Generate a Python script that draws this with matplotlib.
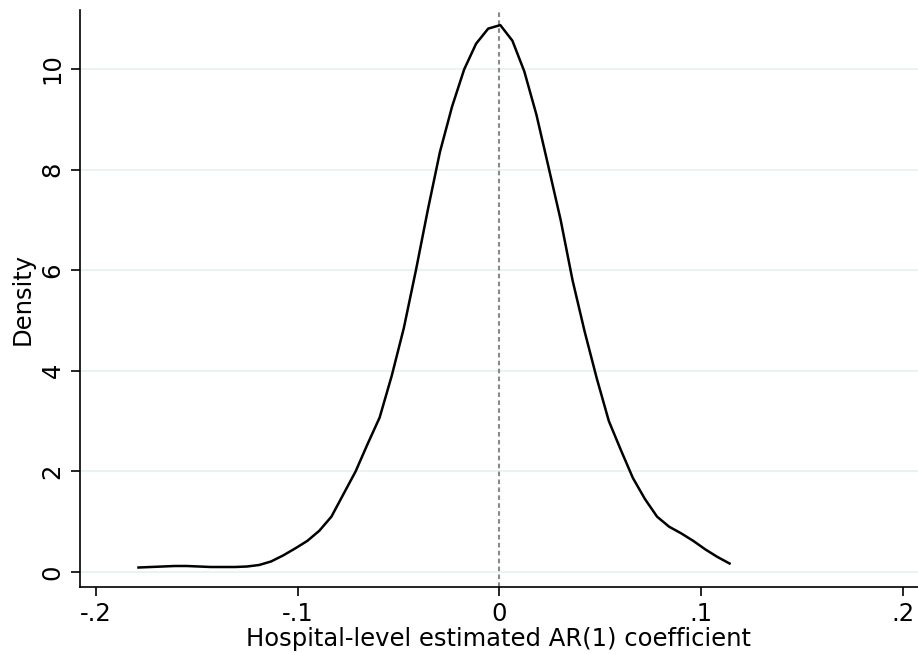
import numpy as np
import matplotlib
matplotlib.use("Agg")
import matplotlib.pyplot as plt

# kdensity evaluation points and estimated density
x_pts = [-0.1789, -0.1729, -0.1669, -0.1610, -0.1550, -0.1490, -0.1430, -0.1371,
         -0.1311, -0.1251, -0.1191, -0.1132, -0.1072, -0.1012, -0.0952, -0.0893,
         -0.0833, -0.0773, -0.0713, -0.0653, -0.0594, -0.0534, -0.0474, -0.0414,
         -0.0355, -0.0295, -0.0235, -0.0175, -0.0116, -0.0056, 0.0004, 0.0064,
         0.0123, 0.0183, 0.0243, 0.0303, 0.0362, 0.0422, 0.0482, 0.0542,
         0.0602, 0.0661, 0.0721, 0.0781, 0.0841, 0.0900, 0.0960, 0.1020,
         0.1080, 0.1140]
density = [0.09, 0.10, 0.11, 0.12, 0.12, 0.11, 0.10, 0.10,
           0.10, 0.11, 0.14, 0.21, 0.33, 0.47, 0.62, 0.82,
           1.10, 1.55, 2.00, 2.55, 3.07, 3.90, 4.85, 6.00,
           7.20, 8.35, 9.25, 9.99, 10.50, 10.80, 10.87, 10.56,
           9.95, 9.09, 8.05, 7.00, 5.80, 4.78, 3.85, 3.00,
           2.42, 1.87, 1.45, 1.10, 0.90, 0.77, 0.62, 0.45,
           0.30, 0.17]

xticks = [-0.2, -0.1, 0, 0.1, 0.2]
xticklabels = ["-.2", "-.1", "0", ".1", ".2"]
yticks = [0, 2, 4, 6, 8, 10]

fig = plt.figure(figsize=(9.18, 6.54), dpi=100)
ax = fig.add_axes([0.0871, 0.1024, 0.9129, 0.8823])

for yv in yticks:
    ax.axhline(yv, color="#eaf2f3", lw=1.4, zorder=0)
ax.axvline(0, color="#8a8a8a", lw=1.5, ls=(0, (2.2, 1.6)), zorder=1)
ax.plot(x_pts, density, color="black", lw=1.8, zorder=2)

ax.set_xlim(-0.2079, 0.2074)
ax.set_ylim(-0.298, 11.17)
ax.set_xticks(xticks)
ax.set_xticklabels(xticklabels)
ax.set_yticks(yticks)
ax.set_yticklabels([str(v) for v in yticks], rotation=90, va="center")

for side in ["top", "right"]:
    ax.spines[side].set_visible(False)
for side in ["left", "bottom"]:
    ax.spines[side].set_linewidth(1.2)

ax.tick_params(axis="both", direction="out", length=6.5, width=1.2, pad=4.5, labelsize=17.5)
ax.set_xlabel("Hospital-level estimated AR(1) coefficient", fontsize=17.5, labelpad=0.5)
ax.set_ylabel("Density", fontsize=17.5, labelpad=4)

fig.savefig("out.png", dpi=100)
